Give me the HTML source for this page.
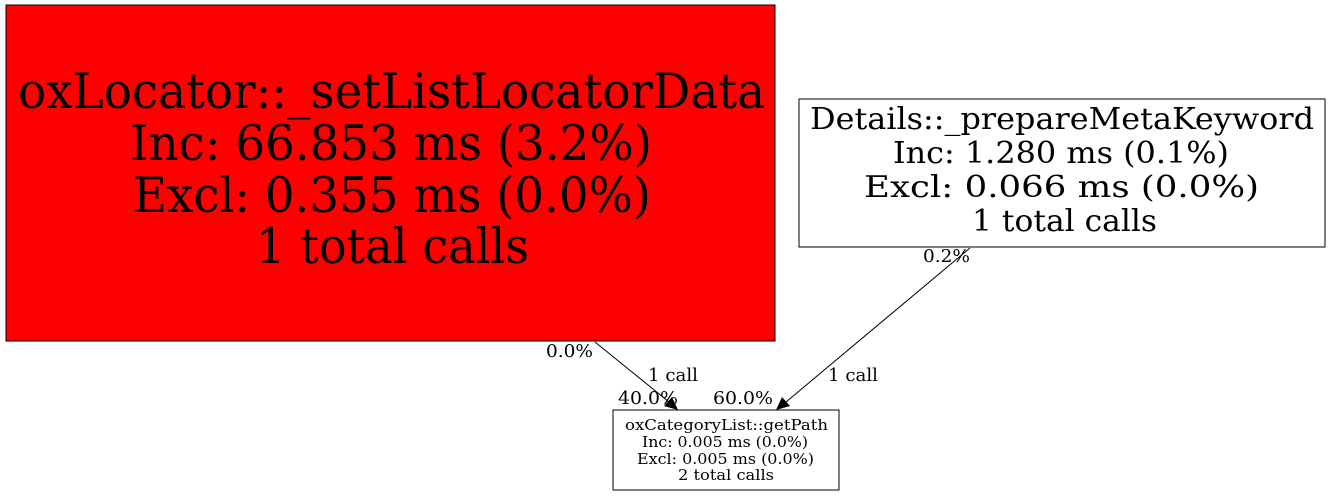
<!DOCTYPE html>
<html><head><meta charset="utf-8"><style>html,body{margin:0;padding:0;background:#fff;}svg{display:block}</style></head>
<body>
<svg width="1331" height="496" viewBox="0 0 1331 496" xmlns="http://www.w3.org/2000/svg" font-family="'DejaVu Serif','Liberation Serif',serif">
<rect x="6" y="5" width="769" height="336" fill="#ff0000" stroke="#000" stroke-width="1"/>
<g font-size="49">
<text x="18" y="108" textLength="747" lengthAdjust="spacingAndGlyphs">oxLocator::_setListLocatorData</text>
<text x="130" y="160" textLength="522" lengthAdjust="spacingAndGlyphs">Inc: 66.853 ms (3.2%)</text>
<text x="133" y="212" textLength="518" lengthAdjust="spacingAndGlyphs">Excl: 0.355 ms (0.0%)</text>
<text x="256" y="263" textLength="273" lengthAdjust="spacingAndGlyphs">1 total calls</text>
</g>
<rect x="799" y="99" width="526" height="148" fill="#fff" stroke="#000"/>
<g font-size="30">
<text x="810" y="129" textLength="504" lengthAdjust="spacingAndGlyphs">Details::_prepareMetaKeyword</text>
<text x="893" y="163" textLength="336" lengthAdjust="spacingAndGlyphs">Inc: 1.280 ms (0.1%)</text>
<text x="864" y="197" textLength="395" lengthAdjust="spacingAndGlyphs">Excl: 0.066 ms (0.0%)</text>
<text x="972" y="231" textLength="185" lengthAdjust="spacingAndGlyphs">1 total calls</text>
</g>
<rect x="613" y="410" width="226" height="80" fill="#fff" stroke="#000"/>
<g font-size="15">
<text x="625" y="430" textLength="203" lengthAdjust="spacingAndGlyphs">oxCategoryList::getPath</text>
<text x="642" y="447" textLength="166" lengthAdjust="spacingAndGlyphs">Inc: 0.005 ms (0.0%)</text>
<text x="637" y="464" textLength="177" lengthAdjust="spacingAndGlyphs">Excl: 0.005 ms (0.0%)</text>
<text x="678" y="480" textLength="96" lengthAdjust="spacingAndGlyphs">2 total calls</text>
</g>
<line x1="595" y1="342" x2="669" y2="402" stroke="#000"/>
<polygon points="678,410 664,406 672,397" fill="#000"/>
<line x1="970" y1="248" x2="786" y2="402" stroke="#000"/>
<polygon points="776,410 782,397 790,406" fill="#000"/>
<g font-size="18">
<text x="546" y="357" textLength="47" lengthAdjust="spacingAndGlyphs">0.0%</text>
<text x="648" y="381" textLength="50" lengthAdjust="spacingAndGlyphs">1 call</text>
<text x="618" y="404" textLength="60" lengthAdjust="spacingAndGlyphs">40.0%</text>
<text x="713" y="404" textLength="60" lengthAdjust="spacingAndGlyphs">60.0%</text>
<text x="923" y="262" textLength="47" lengthAdjust="spacingAndGlyphs">0.2%</text>
<text x="828" y="381" textLength="50" lengthAdjust="spacingAndGlyphs">1 call</text>
</g>
</svg>
</body></html>
